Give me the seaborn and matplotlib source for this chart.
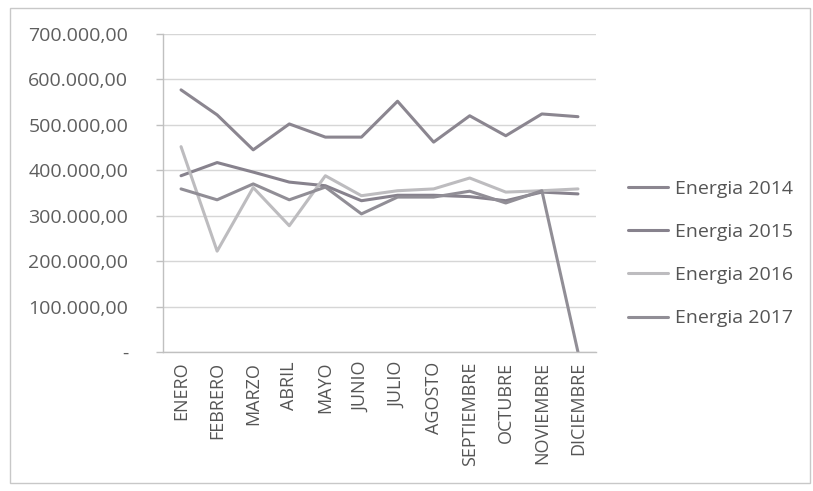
import numpy as np
import pandas as pd
import matplotlib
matplotlib.use("Agg")
import matplotlib.pyplot as plt
import seaborn as sns
from matplotlib.patches import Rectangle
from matplotlib.ticker import FuncFormatter, FixedLocator

months = ["ENERO", "FEBRERO", "MARZO", "ABRIL", "MAYO", "JUNIO", "JULIO",
          "AGOSTO", "SEPTIEMBRE", "OCTUBRE", "NOVIEMBRE", "DICIEMBRE"]
energia_2014 = [577000, 522000, 445000, 502000, 473000, 473000, 552000,
                462000, 520000, 476000, 524000, 518000]
energia_2015 = [388000, 417000, 396000, 374000, 366000, 333000, 345000,
                345000, 342000, 333000, 352000, 348000]
energia_2016 = [452000, 222000, 362000, 278000, 388000, 344000, 355000,
                359000, 383000, 352000, 355000, 359000]
energia_2017 = [359000, 335000, 370000, 335000, 363000, 304000, 341000,
                341000, 354000, 328000, 355000, 0]
series_names = ["Energia 2014", "Energia 2015", "Energia 2016", "Energia 2017"]
yticks = [0, 100000, 200000, 300000, 400000, 500000, 600000, 700000]

df = pd.DataFrame({
    "pos": list(range(12)) * 4,
    "valor": energia_2014 + energia_2015 + energia_2016 + energia_2017,
    "serie": sum([[n] * 12 for n in series_names], []),
})

sns.set_theme(style="white")
plt.rcParams['font.family'] = ['Open Sans', 'DejaVu Sans']

fig = plt.figure(figsize=(8.13, 4.91), dpi=100)
fig.patch.set_facecolor("white")
fig.patches.append(Rectangle((10 / 813, 1 - 483 / 491), 800 / 813, 475 / 491,
                             transform=fig.transFigure, fill=False,
                             edgecolor="#c8c8c8", linewidth=1.0))
ax = fig.add_axes([163 / 813, 1 - 352 / 491, (596 - 163) / 813, (352 - 34) / 491])

palette = {"Energia 2014": "#8b8690", "Energia 2015": "#87828d",
           "Energia 2016": "#bdbcbf", "Energia 2017": "#918e96"}
sns.lineplot(data=df, x="pos", y="valor", hue="serie", palette=palette,
             linewidth=2.2, ax=ax, legend=True, sort=False)

ax.set_xlim(-0.5, 11.5)
ax.set_ylim(0, 700000)
ax.set_yticks(yticks)
ax.yaxis.set_major_formatter(FuncFormatter(
    lambda v, p: "-" if v == 0 else f"{v:,.2f}".replace(",", "X").replace(".", ",").replace("X", ".")))
ax.grid(axis="y", color="#d6d6d6", linewidth=1.0)
ax.set_axisbelow(True)
ax.set_xticks(range(12))
ax.set_xticklabels(months, rotation=90)
ax.xaxis.set_minor_locator(FixedLocator(np.arange(-0.5, 12, 1)))
ax.tick_params(axis="x", which="major", length=0, pad=7, labelsize=13, labelcolor="#555555")
ax.tick_params(axis="x", which="minor", length=5, width=1, color="#c0c0c0", direction="out")
ax.tick_params(axis="y", which="major", length=5, width=1, color="#c0c0c0", left=True,
               pad=20, labelsize=14, labelcolor="#5e5e5e")
for s in ["top", "right"]:
    ax.spines[s].set_visible(False)
for s in ["left", "bottom"]:
    ax.spines[s].set_color("#c0c0c0")
    ax.spines[s].set_linewidth(1.0)
ax.set_xlabel("")
ax.set_ylabel("")

leg = ax.legend(loc="center left", bbox_to_anchor=(1.055, 0.31), frameon=False,
                fontsize=14, labelspacing=1.3, handlelength=2.1, handletextpad=0.35,
                labelcolor="#555555", borderaxespad=0)
for line in leg.get_lines():
    line.set_linewidth(2.2)

fig.savefig("out.png", dpi=100, facecolor="white")
